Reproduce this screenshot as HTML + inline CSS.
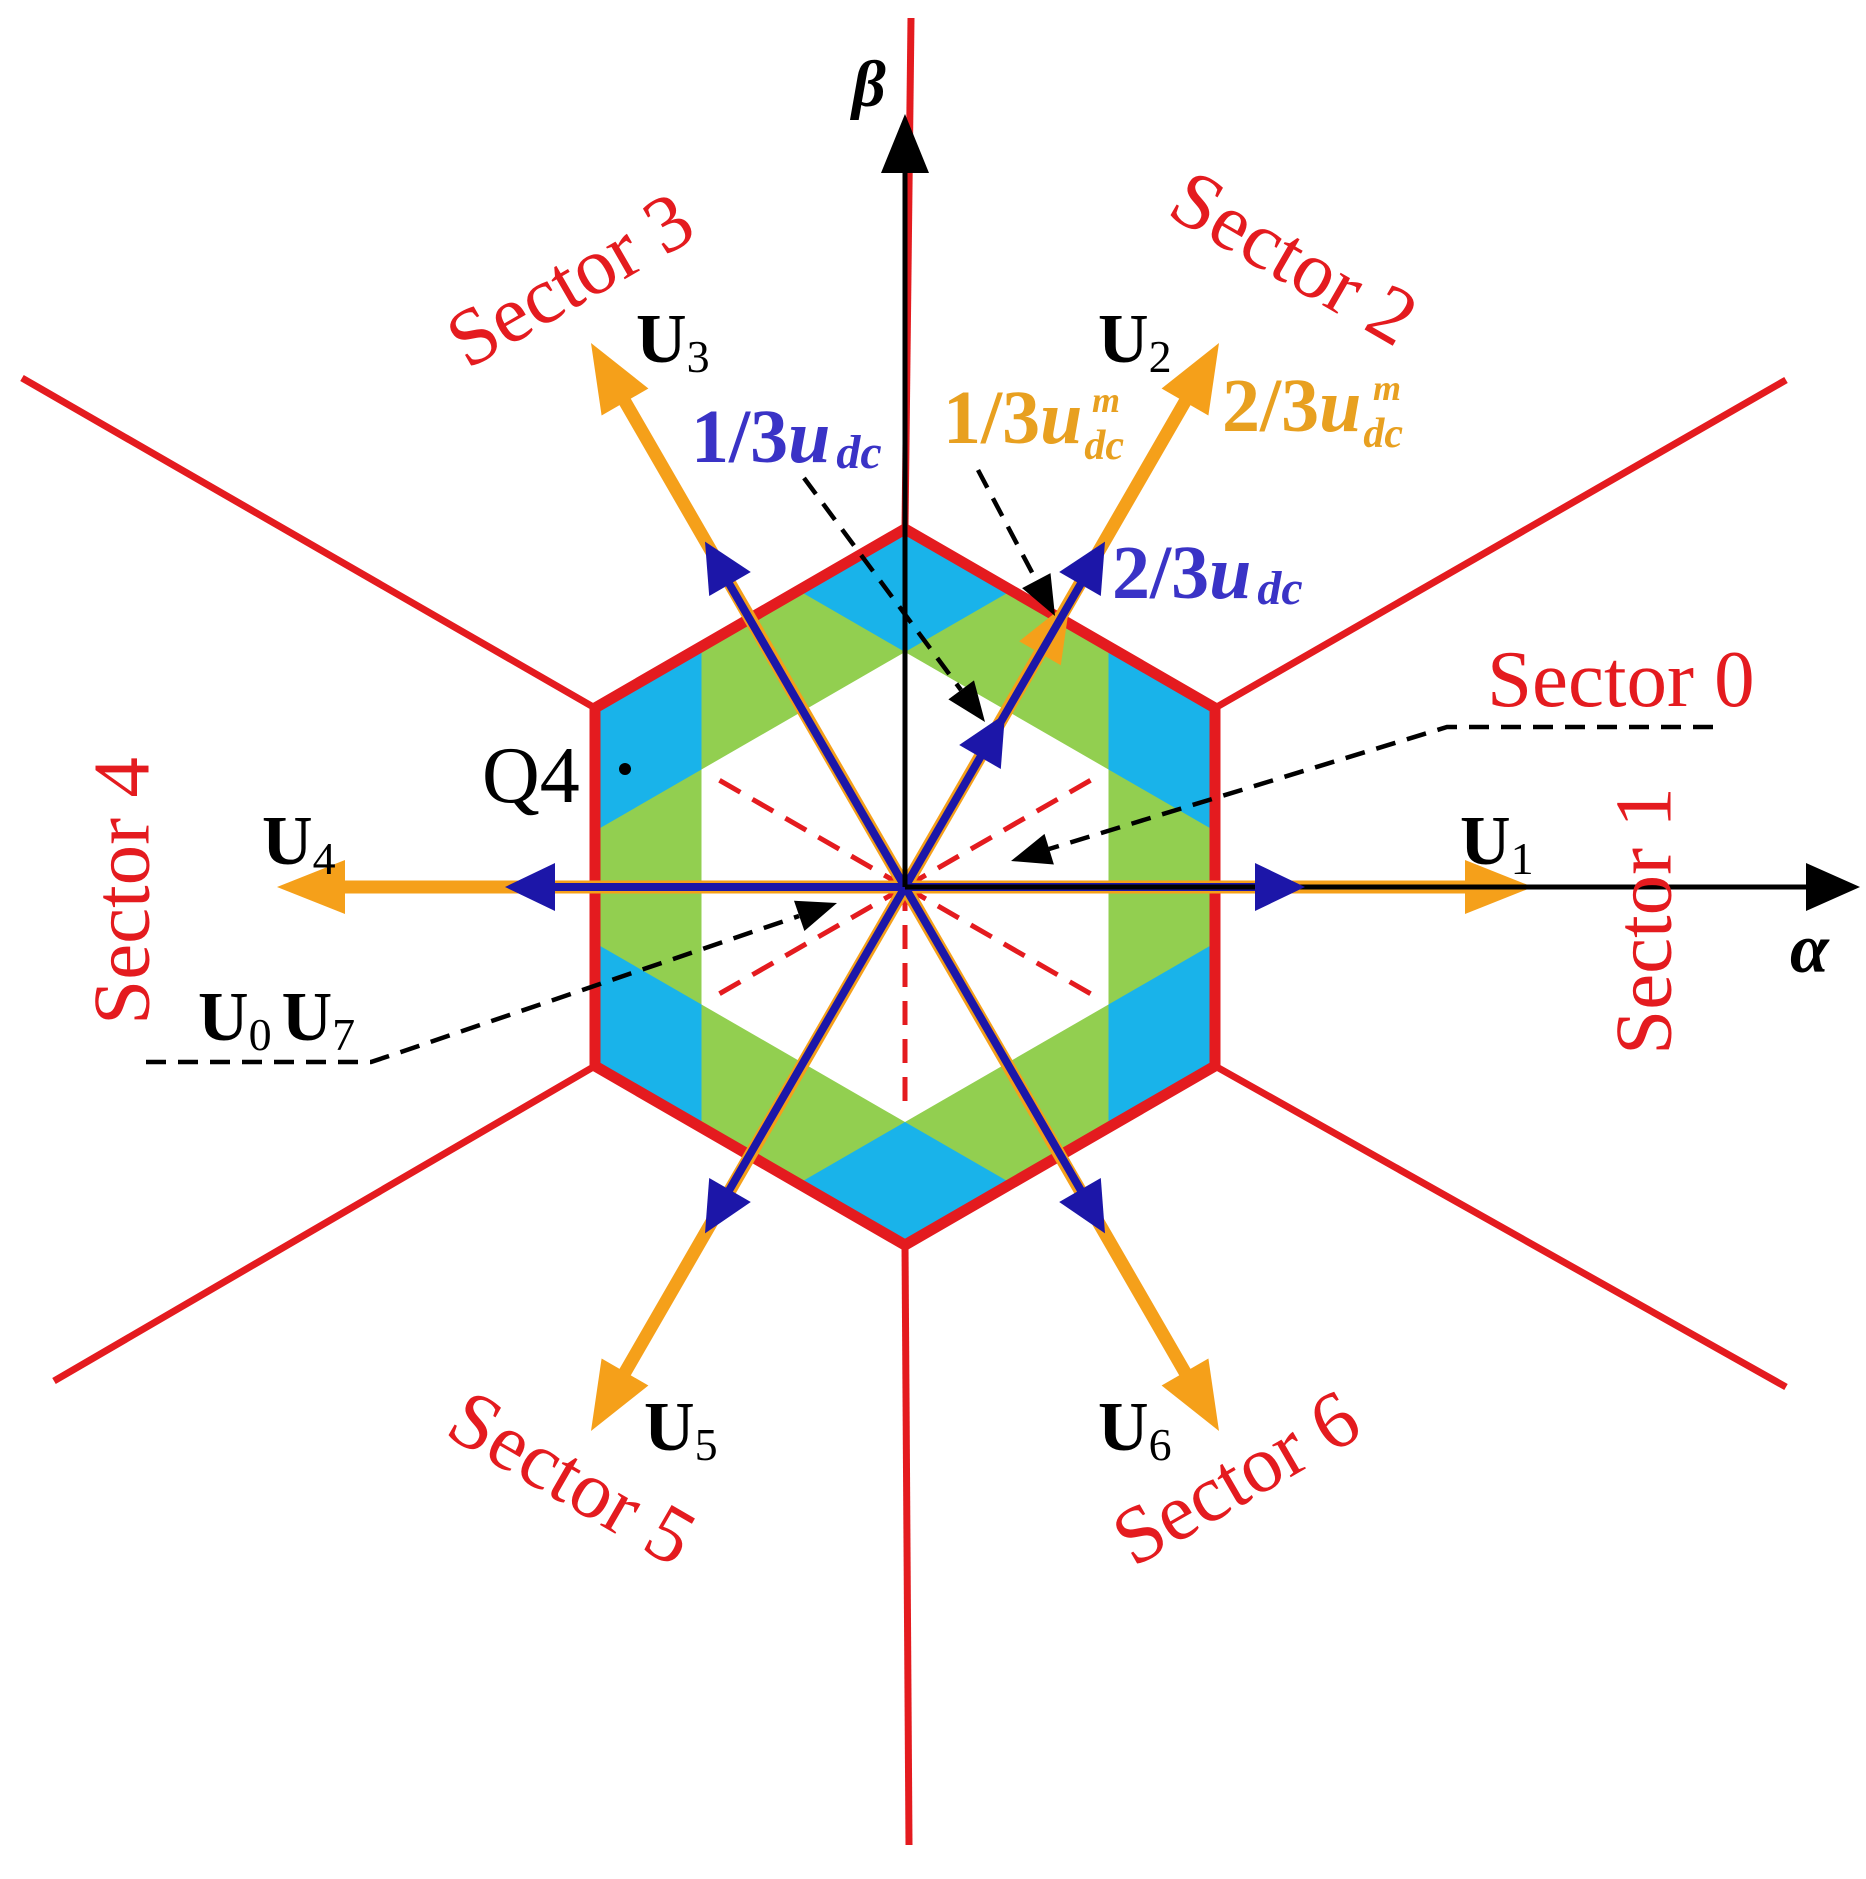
<!DOCTYPE html>
<html><head><meta charset="utf-8"><style>
html,body{margin:0;padding:0;background:#fff;}
svg{display:block;}
.sec{font-family:"Liberation Serif",serif;font-size:81px;fill:#e41b1f;}
.U{font-family:"Liberation Serif",serif;font-size:70px;font-weight:bold;fill:#000;}
.sub{font-size:46px;font-weight:normal;}
.lb{font-family:"Liberation Serif",serif;font-size:76px;font-weight:bold;}
</style></head><body>
<svg width="1866" height="1879" viewBox="0 0 1866 1879" xmlns="http://www.w3.org/2000/svg">
<defs>
<clipPath id="hc"><polygon points="905,529 1215,708 1215,1066 905,1245 595,1066 595,708"/></clipPath>
</defs>
<g stroke="#e41b1f" stroke-width="7" fill="none">
<line x1="911" y1="18" x2="905" y2="529"/>
<line x1="905" y1="1245" x2="909" y2="1845"/>
<line x1="1215" y1="708" x2="1786" y2="380"/>
<line x1="1215" y1="1066" x2="1786" y2="1387"/>
<line x1="595" y1="708" x2="22" y2="378"/>
<line x1="595" y1="1066" x2="54" y2="1381"/>
</g>
<polygon points="905,529 1215,708 1215,1066 905,1245 595,1066 595,708" fill="#19b3ea"/>
<g clip-path="url(#hc)">
<polygon points="1312,887 1108.5,769.5 1108.5,534.5 905,652 701.5,534.5 701.5,769.5 498,887 701.5,1004.5 701.5,1239.5 905,1122 1108.5,1239.5 1108.5,1004.5" fill="#92cf50"/>
</g>
<polygon points="905,652 1108.5,769.5 1108.5,1004.5 905,1122 701.5,1004.5 701.5,769.5" fill="#fff"/>
<polygon points="905,529 1215,708 1215,1066 905,1245 595,1066 595,708" fill="none" stroke="#e41b1f" stroke-width="11" stroke-linejoin="miter"/>
<g stroke="#e41b1f" stroke-width="5" stroke-dasharray="24,14" fill="none">
<line x1="905" y1="887" x2="1091" y2="780"/>
<line x1="905" y1="887" x2="719" y2="780"/>
<line x1="905" y1="887" x2="719" y2="994"/>
<line x1="905" y1="887" x2="1091" y2="994"/>
<line x1="905" y1="887" x2="905" y2="1102"/>
</g>
<g stroke="#f5a01a" stroke-width="13" fill="none">
<line x1="905" y1="887" x2="1475" y2="887"/>
<line x1="905" y1="887" x2="1190" y2="393"/>
<line x1="905" y1="887" x2="620" y2="393"/>
<line x1="905" y1="887" x2="335" y2="887"/>
<line x1="905" y1="887" x2="620" y2="1381"/>
<line x1="905" y1="887" x2="1190" y2="1381"/>
</g>
<g fill="#f5a01a">
<polygon points="1533,887 1465,914 1465,860"/>
<polygon points="1219,343 1208.4,415.5 1161.6,388.5"/>
<polygon points="591,343 648.4,388.5 601.6,415.5"/>
<polygon points="277,887 345,860 345,914"/>
<polygon points="591,1431 601.6,1358.5 648.4,1385.5"/>
<polygon points="1219,1431 1161.6,1385.5 1208.4,1358.5"/>
<polygon points="1070,601 1060.8,665.2 1019.2,641.2"/>
</g>
<g stroke="#1c16a8" stroke-width="8" fill="none">
<line x1="905" y1="887" x2="1260" y2="887"/>
<line x1="905" y1="887" x2="1083" y2="580"/>
<line x1="905" y1="887" x2="727" y2="580"/>
<line x1="905" y1="887" x2="550" y2="887"/>
<line x1="905" y1="887" x2="727" y2="1194"/>
<line x1="905" y1="887" x2="1083" y2="1194"/>
</g>
<g stroke="#000" stroke-width="5">
<line x1="905" y1="887" x2="1815" y2="887"/>
<line x1="905" y1="887" x2="905" y2="165"/>
</g>
<polygon points="1860,887 1806,863 1806,911" fill="#000"/>
<polygon points="905,114 881,173 929,173" fill="#000"/>
<g fill="#1c16a8">
<polygon points="1305,887 1255,863 1255,911"/>
<polygon points="1105,541.6 1100.8,596 1059.2,572"/>
<polygon points="705,541.6 750.8,572 709.2,596"/>
<polygon points="505,887 555,863 555,911"/>
<polygon points="705,1233.4 709.2,1178 750.8,1202"/>
<polygon points="1105,1233.4 1059.2,1202 1100.8,1178"/>
<polygon points="1005,714 1000.8,769 959.2,745"/>
</g>
<g stroke="#000" stroke-width="4.5" stroke-dasharray="20,12" fill="none">
<line x1="804" y1="478" x2="961" y2="690"/>
<line x1="978" y1="470" x2="1036" y2="580"/>
<polyline points="1713,727 1447,727 1049,849"/>
<polyline points="146,1062 371,1062 401,1052 799,916"/>
</g>
<g fill="#000">
<polygon points="985,722 948.4,699.4 974,680.4"/>
<polygon points="1055,616 1022.1,588.1 1050.5,573.1"/>
<polygon points="1011,861 1044.5,833.9 1053.9,864.5"/>
<polygon points="837,903 804.4,931 794,900.8"/>
</g>
<circle cx="625" cy="769" r="6" fill="#000"/>
<text x="852" y="106" font-family="Liberation Serif,serif" font-size="66" font-weight="bold" font-style="italic">β</text>
<text x="1790" y="972" font-family="Liberation Serif,serif" font-size="70" font-weight="bold" font-style="italic">α</text>
<text x="482" y="802" font-family="Liberation Serif,serif" font-size="80">Q4</text>

<text class="sec" x="574" y="287" text-anchor="middle" dominant-baseline="middle" transform="rotate(-30 574 287)">Sector 3</text>
<text class="sec" x="1290" y="265" text-anchor="middle" dominant-baseline="middle" transform="rotate(30 1290 265)">Sector 2</text>
<text class="sec" x="1487" y="706">Sector 0</text>
<text class="sec" x="1652" y="921" text-anchor="middle" dominant-baseline="middle" transform="rotate(-90 1652 921)">Sector 1</text>
<text class="sec" x="130" y="891" text-anchor="middle" dominant-baseline="middle" transform="rotate(-90 130 891)">Sector 4</text>
<text class="sec" x="568" y="1485" text-anchor="middle" dominant-baseline="middle" transform="rotate(30 568 1485)">Sector 5</text>
<text class="sec" x="1240" y="1485" text-anchor="middle" dominant-baseline="middle" transform="rotate(-30 1240 1485)">Sector 6</text>

<text class="U" x="636" y="362">U<tspan class="sub" dy="10">3</tspan></text>
<text class="U" x="1098" y="362">U<tspan class="sub" dy="10">2</tspan></text>
<text class="U" x="262" y="864">U<tspan class="sub" dy="10">4</tspan></text>
<text class="U" x="1460" y="864">U<tspan class="sub" dy="10">1</tspan></text>
<text class="U" x="644" y="1450">U<tspan class="sub" dy="10">5</tspan></text>
<text class="U" x="1098" y="1450">U<tspan class="sub" dy="10">6</tspan></text>
<text class="U" x="198" y="1040">U<tspan class="sub" dy="10">0</tspan><tspan dy="-10" dx="10">U</tspan><tspan class="sub" dy="10">7</tspan></text>

<text class="lb" x="691" y="462" fill="#3a33c6">1/3<tspan font-style="italic">u</tspan><tspan font-style="italic" font-size="48" dx="6" dy="6">dc</tspan></text>
<text class="lb" x="1112" y="598" fill="#3a33c6">2/3<tspan font-style="italic">u</tspan><tspan font-style="italic" font-size="48" dx="6" dy="6">dc</tspan></text>
<text class="lb" x="943" y="443" fill="#e8a020">1/3<tspan font-style="italic">u</tspan><tspan font-style="italic" font-size="42" dx="2" dy="16">dc</tspan></text>
<text x="1092" y="412" font-family="Liberation Serif,serif" font-size="36" font-style="italic" font-weight="bold" fill="#e8a020">m</text>
<text class="lb" x="1222" y="431" fill="#e8a020">2/3<tspan font-style="italic">u</tspan><tspan font-style="italic" font-size="42" dx="2" dy="16">dc</tspan></text>
<text x="1373" y="400" font-family="Liberation Serif,serif" font-size="36" font-style="italic" font-weight="bold" fill="#e8a020">m</text>
</svg>
</body></html>
